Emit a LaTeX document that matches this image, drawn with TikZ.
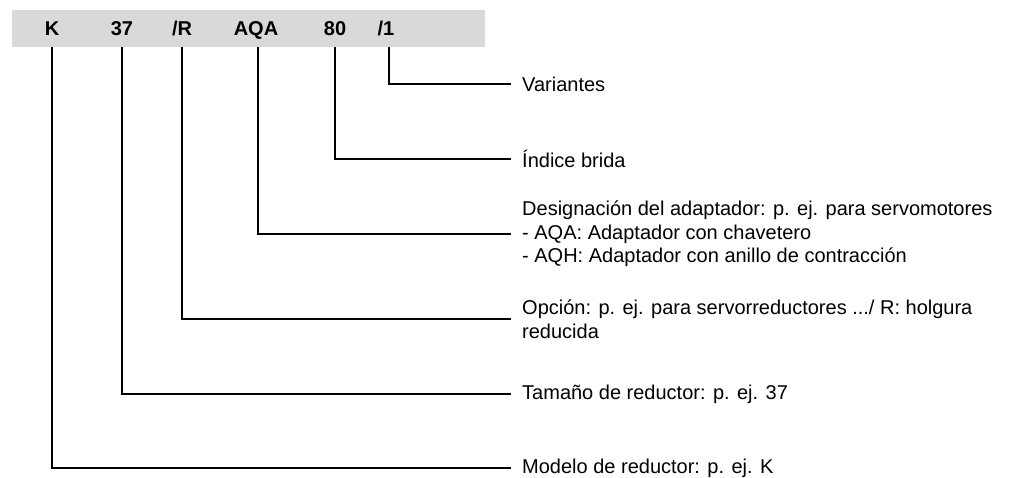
\documentclass[tikz,border=0pt]{standalone}
\usepackage{fontspec}
\setmainfont{Liberation Sans}
\definecolor{barfill}{RGB}{217,217,217}
\tikzset{
	codelabel/.style={font=\fontsize{20}{23}\selectfont\bfseries, text height=14.5pt, text depth=1pt, minimum height=37pt, inner sep=0pt},
	desc/.style={anchor=west, align=left, inner xsep=11pt, inner ysep=0pt, font=\fontsize{20}{23.5}\selectfont},
	leader/.style={line width=2pt},
}
\begin{document}
\begin{tikzpicture}[x=1pt, y=-1pt]
	\useasboundingbox (0,0) rectangle (1028,478);
	\fill[barfill] (12,10) rectangle (485,47);

	\node[codelabel] (k) at (52,28.5) {K};
	\node[codelabel] (size) at (122,28.5) {37};
	\node[codelabel] (opt) at (182,28.5) {/R};
	\node[codelabel] (adapt) at (256,28.5) {AQA};
	\node[codelabel] (flange) at (335,28.5) {80};
	\node[codelabel] (var) at (386,28.5) {/1};

	\node[desc] (dvar) at (511,84) {Variantes};
	\node[desc] (dflange) at (511,159) {Índice brida};
	\node[desc] (dadapt) at (511,234) {Designación del adaptador: p. ej. para servomotores\\- AQA: Adaptador con chavetero\\- AQH: Adaptador con anillo de contracción};
	\node[desc] (dopt) at (511,319) {Opción: p. ej. para servorreductores .../ R: holgura\\reducida};
	\node[desc] (dsize) at (511,394) {Tamaño de reductor: p. ej. 37};
	\node[desc] (dmodel) at (511,468) {Modelo de reductor: p. ej. K};

	\draw[leader] ([xshift=3pt]var.south) |- (dvar.west);
	\draw[leader] (flange.south) |- (dflange.west);
	\draw[leader] ([xshift=2pt]adapt.south) |- (dadapt.west);
	\draw[leader] (opt.south) |- (dopt.west);
	\draw[leader] (size.south) |- (dsize.west);
	\draw[leader] (k.south) |- (dmodel.west);
\end{tikzpicture}
\end{document}
